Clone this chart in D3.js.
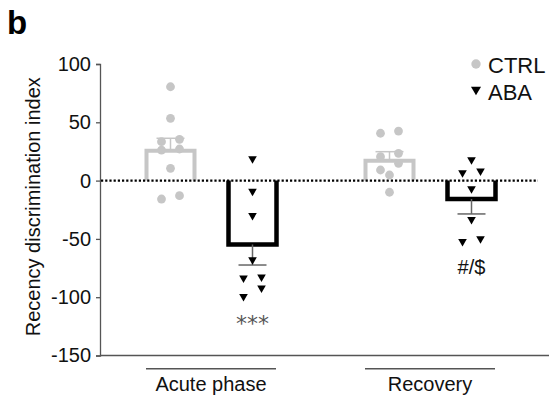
<!DOCTYPE html>
<html>
<head lang="en">
    <meta charset="UTF-8">
    <title></title>
    <script src="https://cdn.jsdelivr.net/npm/d3@7"></script>
    <style>
        body{margin:0;background:#fff;}
        text{font-family:"Liberation Sans",Arial,sans-serif;}
    </style>
</head>
<body>
</body>
</html>
<script>
    var groups=["Acute phase","Recovery"];
    var series=["CTRL","ABA"];
    // individual animals
    var ctrlAcute=[80.5,53.4,33.4,35.4,26.2,27.1,10.5,-15.8,-12.9];
    var abaAcute=[17.7,-10.2,-31,-69,-84.6,-83.7,-93.2,-100.4];
    var ctrlRecovery=[40.6,42.5,20.5,23.4,14.8,9.1,4.8,-10];
    var abaRecovery=[16.8,7.1,5.7,-8.1,-34.4,-53.3,-50.9];
    // bar heights (mean) and SEM per group
    var ctrlMeans=[25.6,17.1];
    var abaMeans=[-54.8,-15.8];
    var ctrlSem=[10.7,7.7];
    var abaSem=[17.6,12.8];
    var abaMarks=["***","#/$"];
    var yTicks=[100,50,0,-50,-100,-150];

    var colors={CTRL:"#c6c6c6",ABA:"#000"};

    var _svg=d3.select('body')
            .append('svg')
            .attr('width',549)
            .attr('height',401);

    var _y=d3.scaleLinear().domain([-150,100]).range([355.5,64]);
    var _x=d3.scaleBand().domain(groups).range([101.5,539.5]);
    var _xs=d3.scaleBand().domain(series).range([28,192]);

    var bars=[];
    groups.forEach(function(g,i){
        bars.push({group:g,s:"CTRL",mean:ctrlMeans[i],sem:ctrlSem[i],pts:[ctrlAcute,ctrlRecovery][i],mark:""});
        bars.push({group:g,s:"ABA",mean:abaMeans[i],sem:abaSem[i],pts:[abaAcute,abaRecovery][i],mark:abaMarks[i]});
    });
    function cx(d){return _x(d.group)+_xs(d.s)+_xs.bandwidth()/2;}

    // rows of points close in y get spread side by side, low value left
    function swarm(vals){
        var sorted=vals.slice().sort(function(a,b){return b-a;});
        var rows=[];
        sorted.forEach(function(v){
            var r=rows[rows.length-1];
            if(r && _y(v)-_y(r[0])<=9) r.push(v);
            else rows.push([v]);
        });
        var out=[];
        rows.forEach(function(r){
            r.sort(function(a,b){return a-b;});
            r.forEach(function(v,i){out.push({v:v,dx:(i-(r.length-1)/2)*18});});
        });
        return out;
    }

    var triDown={draw:function(ctx,size){
        var s=Math.sqrt(size*4/Math.sqrt(3)),h=s*Math.sqrt(3)/2;
        ctx.moveTo(-s/2,-h/2);ctx.lineTo(s/2,-h/2);ctx.lineTo(0,h/2);ctx.closePath();
    }};

    // axes
    var _yAxis=d3.axisLeft(_y).tickValues(yTicks).tickSize(4).tickPadding(5)
            .tickFormat(function(d){return String(d);});
    var _ga=_svg.append('g').attr('transform','translate(100,0)').call(_yAxis);
    _ga.select('.domain').attr('stroke','#555').attr('stroke-width',1.3);
    _ga.selectAll('.tick line').attr('stroke','#555').attr('stroke-width',1.3);
    _ga.selectAll('.tick text').attr('font-size',20).attr('fill','#111')
            .style('font-family','"Liberation Sans",Arial,sans-serif');
    _svg.append('line').attr('x1',100).attr('x2',549)
            .attr('y1',_y(-150)).attr('y2',_y(-150))
            .attr('stroke','#555').attr('stroke-width',1.3);

    // bars (open at zero)
    var bw=48;
    _svg.selectAll('.bar').data(bars).enter().append('path')
            .attr('class','bar')
            .attr('d',function(d){
                var x=cx(d);
                return 'M'+(x-bw/2)+','+_y(0)+'V'+_y(d.mean)+'H'+(x+bw/2)+'V'+_y(0);
            })
            .attr('fill','none')
            .attr('stroke',function(d){return colors[d.s];})
            .attr('stroke-width',function(d){return d.s=="ABA"?4.5:4;});

    // error bars, one-sided away from zero
    var _eb=_svg.selectAll('.eb').data(bars).enter().append('g').attr('class','eb')
            .attr('stroke',function(d){return d.s=="ABA"?"#666":"#c6c6c6";})
            .attr('stroke-width',1.5);
    _eb.append('line')
            .attr('x1',cx).attr('x2',cx)
            .attr('y1',function(d){return _y(d.mean);})
            .attr('y2',function(d){return _y(d.mean+(d.mean<0?-d.sem:d.sem));});
    _eb.append('line')
            .attr('x1',function(d){return cx(d)-14;}).attr('x2',function(d){return cx(d)+14;})
            .attr('y1',function(d){return _y(d.mean+(d.mean<0?-d.sem:d.sem));})
            .attr('y2',function(d){return _y(d.mean+(d.mean<0?-d.sem:d.sem));});

    // zero line
    _svg.append('line').attr('x1',101).attr('x2',538)
            .attr('y1',_y(0)).attr('y2',_y(0))
            .attr('stroke','#000').attr('stroke-width',2.2)
            .attr('stroke-dasharray','2.2,2');

    // points
    var _sym=d3.symbol().type(triDown).size(32);
    bars.forEach(function(b){
        var pts=swarm(b.pts);
        var sel=_svg.append('g').selectAll('.pt').data(pts).enter();
        if(b.s=="CTRL"){
            sel.append('circle')
                    .attr('cx',function(d){return cx(b)+d.dx;})
                    .attr('cy',function(d){return _y(d.v);})
                    .attr('r',4.4)
                    .attr('fill',colors.CTRL);
        }else{
            sel.append('path')
                    .attr('d',_sym)
                    .attr('transform',function(d){return 'translate('+(cx(b)+d.dx)+','+_y(d.v)+')';})
                    .attr('fill','#000');
        }
    });

    // significance marks
    _svg.selectAll('.mark').data(bars.filter(function(d){return d.mark;})).enter()
            .append('text')
            .attr('class','mark')
            .attr('x',cx)
            .attr('y',function(d){return _y(d3.min(d.pts))+(d.mark=="***"?33:31);})
            .attr('text-anchor','middle')
            .attr('font-size',function(d){return d.mark=="***"?22:20;})
            .style('font-family',function(d){return d.mark=="***"?'"DejaVu Sans",sans-serif':'"Liberation Sans",Arial,sans-serif';})
            .attr('fill',function(d){return d.mark=="***"?"#555":"#111";})
            .text(function(d){return d.mark;});

    // group labels
    var _gl=_svg.selectAll('.glab').data(groups).enter().append('g').attr('class','glab');
    _gl.append('line')
            .attr('x1',function(d){return _x(d)+_x.bandwidth()/2-65;})
            .attr('x2',function(d){return _x(d)+_x.bandwidth()/2+65;})
            .attr('y1',368.7).attr('y2',368.7)
            .attr('stroke','#555').attr('stroke-width',1.5);
    _gl.append('text')
            .attr('x',function(d){return _x(d)+_x.bandwidth()/2;})
            .attr('y',391)
            .attr('text-anchor','middle')
            .attr('font-size',20)
            .attr('fill','#111')
            .text(function(d){return d;});

    // y label
    _svg.append('text')
            .attr('transform','translate(40,'+((_y(100)+_y(-150))/2-3)+') rotate(-90)')
            .attr('text-anchor','middle')
            .attr('font-size',20)
            .attr('fill','#111')
            .text('Recency discrimination index');

    // panel letter
    _svg.append('text').attr('x',7).attr('y',34)
            .attr('font-size',33).attr('font-weight','bold')
            .text('b');

    // legend
    var _lg=_svg.append('g').attr('transform','translate(476,64)');
    _lg.append('circle').attr('cx',0).attr('cy',0).attr('r',4.7).attr('fill',colors.CTRL);
    _lg.append('path').attr('d',d3.symbol().type(triDown).size(44)()).attr('transform','translate(0,27)');
    _lg.selectAll('.ltxt').data(series).enter().append('text')
            .attr('x',12)
            .attr('y',function(d,i){return 8.5+i*27;})
            .attr('font-size',22)
            .attr('fill','#111')
            .text(function(d){return d;});
</script>
